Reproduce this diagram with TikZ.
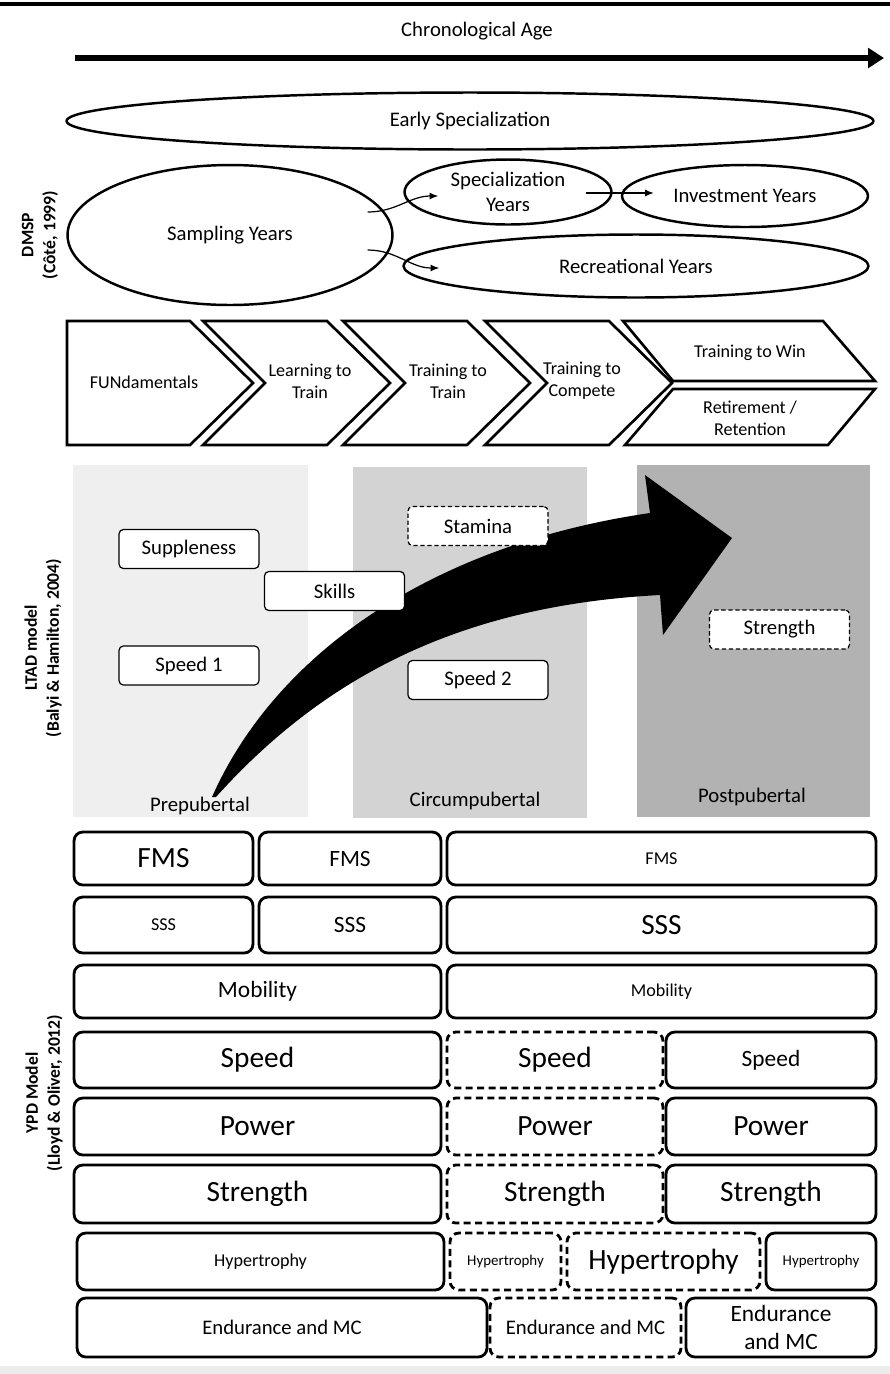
\documentclass[tikz,border=0pt]{standalone}
\usepackage{fontspec}
\setmainfont{Carlito}
\usetikzlibrary{
  arrows.meta, % for prettier arrows
  shapes.geometric, % for the ellipses
  calc, % for position calculations
}
\definecolor{ltad-light}{RGB}{239, 239, 239}
\definecolor{ltad-mid}{RGB}{211, 211, 211}
\definecolor{ltad-dark}{RGB}{178, 178, 178}
\definecolor{band-grey}{RGB}{236, 236, 236}

\tikzset{
  fbig/.style={font=\fontsize{16.7}{20}\selectfont},
  fmid/.style={font=\fontsize{13.3}{16}\selectfont},
  fsmall/.style={font=\fontsize{10.3}{12.5}\selectfont},
  ftiny/.style={font=\fontsize{8.5}{10}\selectfont},
  phase/.style={ellipse, draw, line width=1.4pt, inner sep=0pt, align=center},
  stage/.style={line width=1.5pt, line join=miter},
  quality/.style={draw, line width=0.7pt, rounded corners=2.5pt, fill=white,%
    minimum width=2.8cm, minimum height=0.78cm, inner sep=1pt},
  qualitydash/.style={quality, dash pattern=on 2.5pt off 1.5pt},
  ypdbox/.style={draw, line width=1.6pt, rounded corners=5pt, inner sep=1pt, align=center},
  ypddash/.style={ypdbox, dash pattern=on 4pt off 2.5pt},
  sidelabel/.style={rotate=90, align=center, font=\fontsize{10}{12.5}\selectfont\bfseries},
}

\begin{document}
\begin{tikzpicture}[x=0.02cm, y=-0.02cm, font=\fontsize{11.8}{14}\selectfont]
  \useasboundingbox (0,0) rectangle (890,1374);
  \draw[line width=2.3pt] (0,4) -- (890,4);
  \fill[band-grey] (0,1366) rectangle (890,1374);

  % age axis
  \node (age) at (477,31) {Chronological Age};
  \coordinate (age-start) at (75,58);
  \coordinate (age-end) at (884,58);
  \draw[line width=3pt, -{Triangle[length=9pt, width=11pt]}] (age-start) -- (age-end);

  % DMSP
  \node[sidelabel] (dmsp) at (40,235) {DMSP\\(Côté, 1999)};
  \node[phase, minimum width=16.14cm, minimum height=1.14cm] (early) at (470,121) {Early Specialization};
  \node[phase, minimum width=6.5cm, minimum height=2.8cm] (samp) at (230,235) {Sampling Years};
  \node[phase, minimum width=4.14cm, minimum height=1.3cm] (spec) at (508,192) {Specialization\\Years};
  \node[phase, minimum width=4.92cm, minimum height=1.24cm] (inv) at (745,196) {Investment Years};
  \node[phase, minimum width=9.3cm, minimum height=1.26cm] (rec) at (636,266) {Recreational Years};
  \begin{scope}[line width=0.7pt, -{Latex[length=5pt, width=4pt]}]
    \draw ($(samp.east)+(-26,-23)$) to[out=0, in=180] ($(spec.west)+(35,4)$);
    \draw ($(samp.east)+(-26,15)$) to[out=0, in=180] ($(rec.west)+(37,2)$);
    \draw ($(spec.east)+(-27,1)$) -- ($(inv.west)+(33,-3)$);
  \end{scope}

  % LTAD stages
  \draw[stage] (67,321) -- (190,321) -- (253,383) -- (190,445) -- (67,445) -- cycle;
  \node[fsmall] (fun) at (144,382) {FUNdamentals};
  \foreach \x/\tx/\name/\txt in {203/310/ltt/{Learning to\\Train},%
      343/448/ttt/{Training to\\Train}, 485/582/ttc/{Training to\\Compete}} {
    \draw[stage] (\x,321) -- ++(124,0) -- ++(63,62) -- ++(-63,62) -- ++(-124,0) -- ++(62,-62) -- cycle;
    \node[fsmall, align=center] (\name) at (\tx,381) {\txt};
  }
  \draw[stage] (623,321) -- (823,321) -- (875,381) -- (673,381) -- cycle;
  \node[fsmall] (ttw) at (750,353) {Training to Win};
  \draw[stage] (673,389) -- (875,389) -- (828,445) -- (625,445) -- cycle;
  \node[fsmall, align=center] (ret) at (750,418) {Retirement /\\Retention};

  % LTAD model
  \node[sidelabel] (ltad) at (43,648) {LTAD model\\(Balyi \& Hamilton, 2004)};
  \fill[ltad-light] (73,465) rectangle (308,817);
  \fill[ltad-mid] (353,467) rectangle (587,818);
  \fill[ltad-dark] (637,465) rectangle (870,817);
  \fill (212,797) .. controls (275,655) and (430,545) .. (650,513) -- (645,475) -- (732,538)
    -- (663,635) -- (660,595) .. controls (470,605) and (330,670) .. (216,797) -- cycle;
  \node[quality] (supp) at (189,549) {Suppleness};
  \node[quality] (skills) at (334.5,591) {Skills};
  \node[quality] (speed1) at (189,665.5) {Speed 1};
  \node[qualitydash] (stamina) at (478,526) {Stamina};
  \node[quality] (speed2) at (478,680) {Speed 2};
  \node[qualitydash] (strength) at (779.5,629.5) {Strength};
  \node (pre) at (200,806) {Prepubertal};
  \node (circ) at (475,801) {Circumpubertal};
  \node (post) at (752,797) {Postpubertal};

  % YPD model
  \node[sidelabel] (ypd) at (44,1093) {YPD Model\\(Lloyd \& Oliver, 2012)};
  \node[ypdbox, fbig, minimum width=3.58cm, minimum height=1.06cm] (fms1) at (163.5,858.5) {FMS};
  \node[ypdbox, fmid, minimum width=3.64cm, minimum height=1.06cm] (fms2) at (350,858.5) {FMS};
  \node[ypdbox, fsmall, minimum width=8.58cm, minimum height=1.06cm] (fms3) at (661.5,858.5) {FMS};
  \node[ypdbox, fsmall, minimum width=3.58cm, minimum height=1.12cm] (sss1) at (163.5,925) {SSS};
  \node[ypdbox, fmid, minimum width=3.64cm, minimum height=1.12cm] (sss2) at (350,925) {SSS};
  \node[ypdbox, fbig, minimum width=8.58cm, minimum height=1.12cm] (sss3) at (661.5,925) {SSS};
  \node[ypdbox, fmid, minimum width=7.34cm, minimum height=1.06cm] (mob1) at (257.5,991.5) {Mobility};
  \node[ypdbox, fsmall, minimum width=8.58cm, minimum height=1.06cm] (mob2) at (661.5,991.5) {Mobility};
  \node[ypdbox, fbig, minimum width=7.34cm, minimum height=1.12cm] (spd1) at (257.5,1060) {Speed};
  \node[ypddash, fbig, minimum width=4.32cm, minimum height=1.12cm] (spd2) at (555,1060) {Speed};
  \node[ypdbox, fmid, minimum width=4.2cm, minimum height=1.12cm] (spd3) at (771,1060) {Speed};
  \node[ypdbox, fbig, minimum width=7.34cm, minimum height=1.14cm] (pow1) at (257.5,1126.5) {Power};
  \node[ypddash, fbig, minimum width=4.32cm, minimum height=1.14cm] (pow2) at (555,1126.5) {Power};
  \node[ypdbox, fbig, minimum width=4.2cm, minimum height=1.14cm] (pow3) at (771,1126.5) {Power};
  \node[ypdbox, fbig, minimum width=7.34cm, minimum height=1.16cm] (str1) at (257.5,1194) {Strength};
  \node[ypddash, fbig, minimum width=4.32cm, minimum height=1.16cm] (str2) at (555,1194) {Strength};
  \node[ypdbox, fbig, minimum width=4.2cm, minimum height=1.16cm] (str3) at (771,1194) {Strength};
  \node[ypdbox, fsmall, minimum width=7.34cm, minimum height=1.14cm] (hyp1) at (260.5,1261.5) {Hypertrophy};
  \node[ypddash, ftiny, minimum width=2.22cm, minimum height=1.14cm] (hyp2) at (505.5,1261.5) {Hypertrophy};
  \node[ypddash, fbig, minimum width=3.86cm, minimum height=1.14cm] (hyp3) at (663.5,1261.5) {Hypertrophy};
  \node[ypdbox, ftiny, minimum width=2.2cm, minimum height=1.14cm] (hyp4) at (821,1261.5) {Hypertrophy};
  \node[ypdbox, minimum width=8.2cm, minimum height=1.18cm] (end1) at (282,1327.5) {Endurance and MC};
  \node[ypddash, minimum width=3.82cm, minimum height=1.18cm] (end2) at (585.5,1327.5) {Endurance and MC};
  \node[ypdbox, fmid, minimum width=3.8cm, minimum height=1.18cm] (end3) at (781,1327.5) {Endurance\\and MC};
\end{tikzpicture}
\end{document}
